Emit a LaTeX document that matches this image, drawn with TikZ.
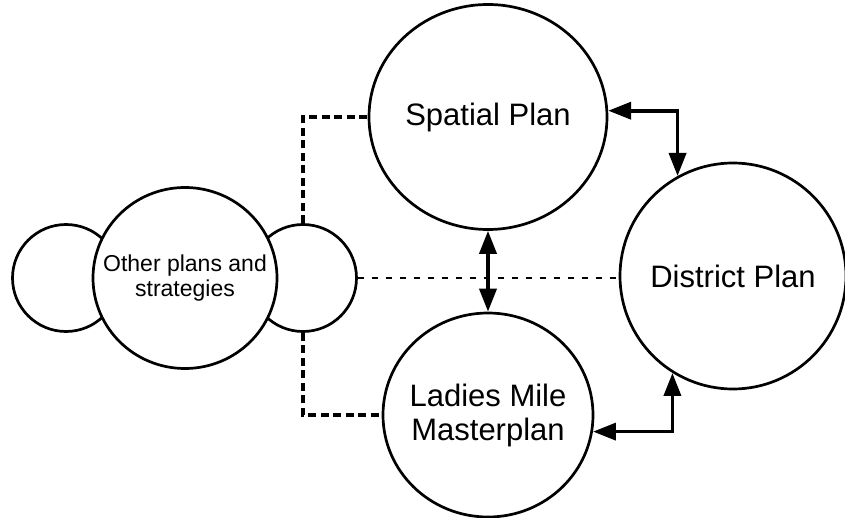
\documentclass[tikz,border=0pt]{standalone}
\usepackage{fontspec}
\setmainfont{Liberation Sans}
\usetikzlibrary{shapes.geometric,arrows.meta}
\begin{document}
\begin{tikzpicture}[x=1pt,y=-1pt,
  plan/.style={draw,ellipse,line width=2.7pt,fill=white,inner sep=0pt},
  bigtext/.style={font=\fontsize{31}{34}\selectfont,align=center},
  smalltext/.style={font=\fontsize{23}{25}\selectfont,align=center},
  dashlink/.style={line width=3.4pt,dash pattern=on 8pt off 4.5pt},
  thindash/.style={line width=2.6pt,dash pattern=on 6pt off 8pt},
  mutual/.style={line width=3.7pt,{Triangle[length=23pt,width=17pt]}-{Triangle[length=23pt,width=17pt]}}
]
\useasboundingbox (0,0) rectangle (845,518);
% side circles of the group
\node[plan,minimum width=107pt,minimum height=107pt] (ls) at (66,278) {};
\node[plan,minimum width=107pt,minimum height=107pt] (rs) at (303,278) {};
\node[plan,minimum width=184pt,minimum height=181pt] (op) at (185,278) {};
\node[smalltext] (opt) at (op.center) {Other plans and\\strategies};
% main plans
\node[plan,minimum width=238pt,minimum height=225pt] (sp) at (488,117) {};
\node[bigtext] (spt) at (sp.center) {Spatial Plan};
\node[plan,minimum width=210pt,minimum height=204pt] (lm) at (488,415) {};
\node[bigtext] (lmt) at (lm.center) {Ladies Mile\\Masterplan};
\node[plan,minimum width=226pt,minimum height=226pt] (dp) at (733,276) {};
\node[bigtext] (dpt) at (dp.center) {District Plan};
% dashed links
\draw[dashlink] (rs.north) |- (sp.west);
\draw[dashlink] (rs.south) |- (lm.west);
\draw[thindash] (rs.east) -- (rs.east -| dp.west);
% mutual arrows
\draw[mutual] (sp.south) -- (lm.north);
\draw[mutual] (sp.3.4) -| (dp.119.7);
\draw[mutual] (lm.-9.3) -| (dp.-122.7);
\end{tikzpicture}
\end{document}
